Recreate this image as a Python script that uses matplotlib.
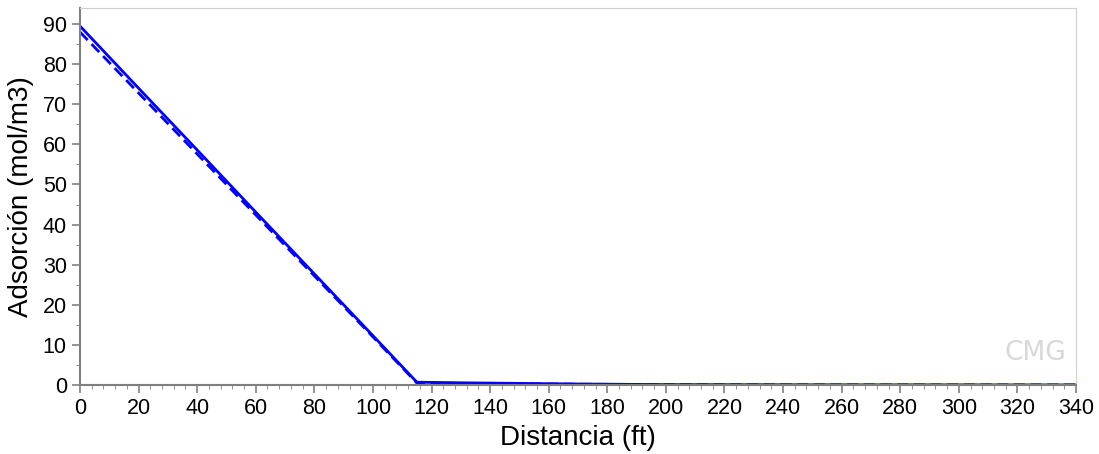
import matplotlib.pyplot as plt
from matplotlib.ticker import MultipleLocator

plt.rcParams['font.family'] = ['Liberation Sans', 'DejaVu Sans']

# solid line (simulated)
dist_a = [0, 20, 40, 60, 80, 100, 115, 130, 150, 170, 200, 250, 340]
ads_a = [89.5, 74.0, 58.6, 43.1, 27.7, 12.3, 0.7, 0.55, 0.4, 0.25, 0.1, 0.05, 0.02]

# dashed line
dist_b = [0, 20, 40, 60, 80, 100, 115, 130, 150, 170, 200, 250, 340]
ads_b = [88.0, 72.8, 57.6, 42.4, 27.2, 12.0, 0.5, 0.4, 0.3, 0.2, 0.08, 0.04, 0.02]

fig = plt.figure(figsize=(10.99, 4.54), dpi=100)
ax = fig.add_axes([80 / 1099, 1 - 385 / 454, (1076 - 80) / 1099, (385 - 8) / 454])

ax.plot(dist_a, ads_a, color='#0000ff', lw=2)
ax.plot(dist_b, ads_b, color='#0000ff', lw=2, ls=(0, (4, 2)))

ax.set_xlim(0, 340)
ax.set_ylim(0, 94)
ax.xaxis.set_major_locator(MultipleLocator(20))
ax.xaxis.set_minor_locator(MultipleLocator(4))
ax.yaxis.set_major_locator(MultipleLocator(10))
ax.yaxis.set_minor_locator(MultipleLocator(5))

for s in ['left', 'bottom']:
    ax.spines[s].set_color('#808080')
    ax.spines[s].set_linewidth(1.5)
for s in ['top', 'right']:
    ax.spines[s].set_color('#d0d0d0')
ax.tick_params(which='both', color='#808080', labelsize=15.5, labelcolor='black')
ax.tick_params(which='major', length=6, width=1.2)
ax.tick_params(which='minor', length=3)
ax.tick_params(axis='x', which='both', top=False)
ax.tick_params(axis='y', which='both', right=False)

ax.set_xlabel('Distancia (ft)', fontsize=20, labelpad=4)
ax.set_ylabel('Adsorción (mol/m3)', fontsize=20, labelpad=6)

ax.text(0.99, 0.05, 'CMG', transform=ax.transAxes, ha='right', va='bottom',
        fontsize=19, color='#d8d8d8', fontfamily='DejaVu Sans Condensed')

fig.savefig('out.png', dpi=100)
